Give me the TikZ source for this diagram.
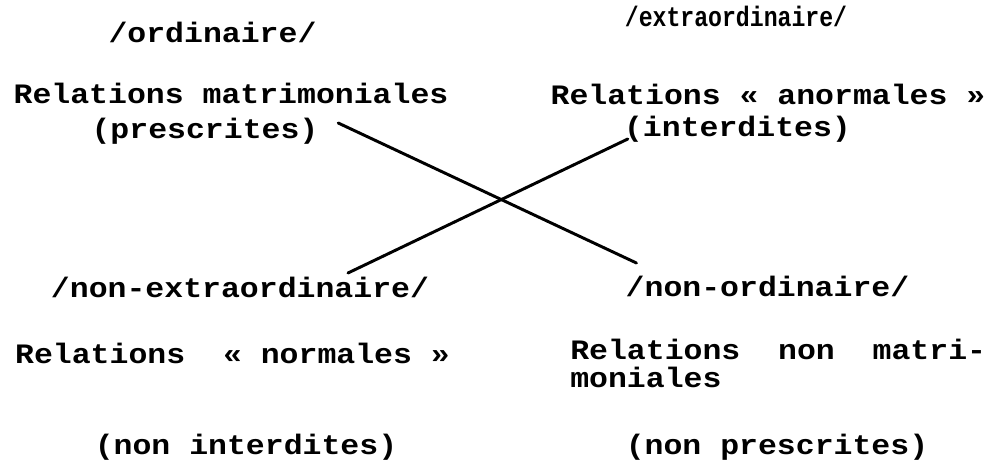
\documentclass[tikz,border=0pt]{standalone}
\usepackage{fontspec}
\setmonofont[FakeStretch=1.12]{Liberation Mono}
\usepackage{tikz}
\usetikzlibrary{calc}
\tikzstyle{termtext}=[inner sep=0pt,anchor=base,
                      font=\fontsize{20}{24}\selectfont\ttfamily\bfseries]
\tikzstyle{crossline}=[line width=2.1pt,line cap=round]
\newcommand\narrowterm[1]{\scalebox{0.735}[1]{#1}}

\begin{document}
\begin{tikzpicture}[x=0.025cm,y=-0.025cm]
    \useasboundingbox (0,0) rectangle (1006,464);
    	\node [termtext] (ordinaire) at (212.5,43) {/ordinaire/};
    	\node [termtext] (matrimoniales) at (231,104) {Relations matrimoniales};
    	\node [termtext] (prescrites) at (205,139) {(prescrites)};
    	\node [termtext] (extraordinaire) at (736,27) {\narrowterm{/extraordinaire/}};
    	\node [termtext] (anormales) at (768,105) {Relations « anormales »};
    	\node [termtext] (interdites) at (737.5,137) {(interdites)};
    	\node [termtext] (nonextra) at (240,298) {/non-extraordinaire/};
    	\node [termtext] (normales) at (232.5,364) {Relations~~« normales »};
    	\node [termtext] (noninterdites) at (246,455) {(non interdites)};
    	\node [termtext] (nonord) at (767.5,297) {/non-ordinaire/};
    	\node [termtext,anchor=base west] (nonmatri) at (570,360) {Relations~~non~~matri-};
    	\node [termtext,anchor=base west] (moniales) at (570,388) {moniales};
    	\node [termtext] (nonprescrites) at (777,455) {(non prescrites)};
    	\draw [crossline] ($(prescrites.base east)+(19.5,-16)$) -- ($(nonord.base west)+(11,-34)$);
    	\draw [crossline] ($(nonextra.base)+(108,-25)$) -- ($(interdites.base west)+(4,2)$);
    \end{tikzpicture}
\end{document}
